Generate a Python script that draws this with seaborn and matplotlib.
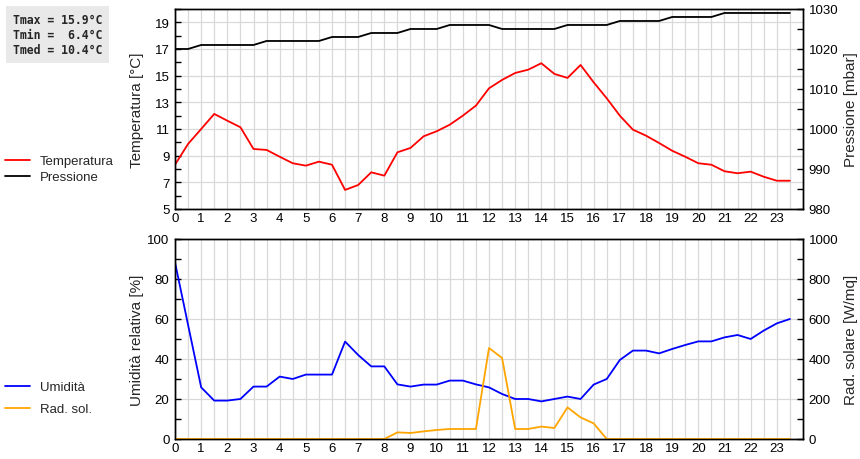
import numpy as np
import pandas as pd
import matplotlib
matplotlib.use("Agg")
import matplotlib.pyplot as plt
from matplotlib.ticker import MultipleLocator
import seaborn as sns

# ore (ogni mezz'ora)
ore = [i * 0.5 for i in range(48)]

temperatura = [8.32, 9.88, 11.0, 12.13, 11.62, 11.13, 9.5, 9.43, 8.92, 8.43,
               8.25, 8.55, 8.32, 6.43, 6.8, 7.75, 7.5, 9.25, 9.58, 10.45,
               10.83, 11.32, 12.0, 12.75, 14.05, 14.68, 15.2, 15.45, 15.93, 15.13,
               14.83, 15.8, 14.5, 13.3, 12.0, 10.95, 10.5, 9.95, 9.37, 8.92,
               8.43, 8.32, 7.83, 7.68, 7.8, 7.42, 7.12, 7.12]

pressione = [1020, 1020, 1021, 1021, 1021, 1021, 1021, 1022, 1022, 1022,
             1022, 1022, 1023, 1023, 1023, 1024, 1024, 1024, 1025, 1025,
             1025, 1026, 1026, 1026, 1026, 1025, 1025, 1025, 1025, 1025,
             1026, 1026, 1026, 1026, 1027, 1027, 1027, 1027, 1028, 1028,
             1028, 1028, 1029, 1029, 1029, 1029, 1029, 1029]

umidita = [88.3, 57, 25.8, 19.2, 19.2, 20, 26.2, 26.2, 31.2, 30,
           32.2, 32.2, 32.2, 48.7, 42, 36.3, 36.3, 27.3, 26.2, 27.2,
           27.2, 29.2, 29.2, 27.3, 25.8, 22.5, 20, 20, 18.8, 20,
           21.2, 20, 27.2, 30, 39.5, 44.2, 44.2, 42.8, 45, 47,
           48.8, 48.8, 50.8, 52, 50, 54.2, 57.8, 60]

rad_sol = [0, 0, 0, 0, 0, 0, 0, 0, 0, 0,
           0, 0, 0, 0, 0, 0, 0, 33, 30, 38,
           45, 50, 50, 50, 455, 405, 50, 50, 62, 55,
           158, 108, 78, 0, 0, 0, 0, 0, 0, 0,
           0, 0, 0, 0, 0, 0, 0, 0]

stats_text = "Tmax = 15.9°C\nTmin =  6.4°C\nTmed = 10.4°C"

df = pd.DataFrame({"ora": ore, "temperatura": temperatura, "pressione": pressione,
                   "umidita": umidita, "rad_sol": rad_sol})

sns.set_style("white")
plt.rcParams["font.family"] = ["Liberation Sans", "DejaVu Sans"]

fig = plt.figure(figsize=(8.6, 4.6), dpi=100)
ax_t = fig.add_axes([0.2035, 0.5435, 0.7302, 0.4348])
ax_u = fig.add_axes([0.2035, 0.0435, 0.7302, 0.4348])
ax_p = ax_t.twinx()
ax_r = ax_u.twinx()

lw = 1.3
sns.lineplot(data=df, x="ora", y="temperatura", ax=ax_t, color="#ff0000", lw=lw, label="Temperatura")
sns.lineplot(data=df, x="ora", y="pressione", ax=ax_p, color="black", lw=lw, label="Pressione")
sns.lineplot(data=df, x="ora", y="umidita", ax=ax_u, color="#0000ff", lw=lw, label="Umidità")
sns.lineplot(data=df, x="ora", y="rad_sol", ax=ax_r, color="#ffa500", lw=lw, label="Rad. sol.")

for a in (ax_t, ax_p, ax_u, ax_r):
    leg = a.get_legend()
    if leg is not None:
        leg.remove()
    for s in a.spines.values():
        s.set_color("black")
        s.set_linewidth(1.0)
    a.tick_params(which="both", direction="in", length=4, width=1, colors="black",
                  labelsize=9.5, pad=4)
    a.set_xlabel("")

for a in (ax_t, ax_u):
    a.set_xlim(0, 24)
    a.set_xticks(range(24))
    a.xaxis.set_minor_locator(MultipleLocator(0.5))
    a.grid(True, which="both", axis="x", color="#d9d9d9", lw=0.9)
    a.grid(True, which="major", axis="y", color="#d9d9d9", lw=0.9)
    a.set_axisbelow(True)
    a.tick_params(axis="x", pad=2)
    a.tick_params(top=False, which="both")

ax_t.set_ylim(5, 20)
ax_t.set_yticks(range(5, 20, 2))
ax_t.yaxis.set_minor_locator(MultipleLocator(1))
ax_p.set_ylim(980, 1030)
ax_p.set_yticks(range(980, 1031, 10))
ax_p.yaxis.set_minor_locator(MultipleLocator(5))

ax_u.set_ylim(0, 100)
ax_u.set_yticks(range(0, 101, 20))
ax_u.yaxis.set_minor_locator(MultipleLocator(10))
ax_r.set_ylim(0, 1000)
ax_r.set_yticks(range(0, 1001, 200))
ax_r.yaxis.set_minor_locator(MultipleLocator(100))

ax_t.set_ylabel("Temperatura [°C]", fontsize=11)
ax_p.set_ylabel("Pressione [mbar]", fontsize=11)
ax_u.set_ylabel("Umidità relativa [%]", fontsize=11)
ax_r.set_ylabel("Rad. solare [W/mq]", fontsize=11)
for a in (ax_t, ax_u):
    a.yaxis.set_label_coords(-0.05, 0.5)
for a in (ax_p, ax_r):
    a.yaxis.set_label_coords(1.066, 0.5)

# legende a sinistra
h1 = ax_t.get_lines()[:1] + ax_p.get_lines()[:1]
fig.legend(h1, ["Temperatura", "Pressione"], loc="center left", bbox_to_anchor=(0, 0.63),
           frameon=False, fontsize=9.5, handlelength=1.9, handletextpad=0.75,
           labelspacing=0.3, borderaxespad=0)
h2 = ax_u.get_lines()[:1] + ax_r.get_lines()[:1]
fig.legend(h2, ["Umidità", "Rad. sol."], loc="center left", bbox_to_anchor=(0, 0.132),
           frameon=False, fontsize=9.5, handlelength=1.9, handletextpad=0.75,
           labelspacing=0.75, borderaxespad=0)

fig.text(0.0151, 0.97, stats_text, family="DejaVu Sans Mono", weight="bold",
         fontsize=8.3, va="top", ha="left", linespacing=1.2,
         bbox=dict(facecolor="#e9e9e9", edgecolor="none", pad=5))

fig.savefig("out.png", dpi=100)
